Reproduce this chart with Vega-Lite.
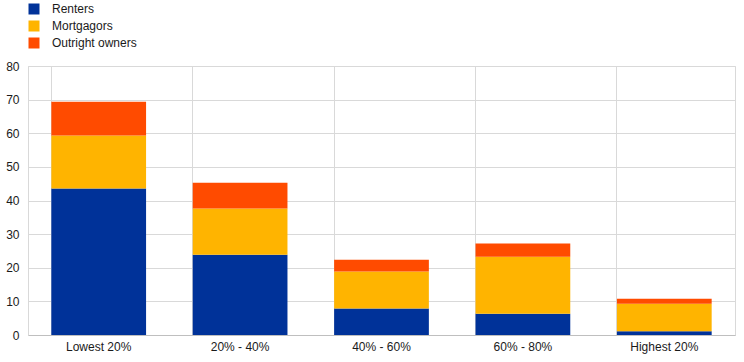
{
  "$schema": "https://vega.github.io/schema/vega-lite/v6.json",
  "width": 707,
  "height": 269,
  "autosize": {"type": "none"},
  "padding": {"left": 28, "top": 66, "right": 9, "bottom": 27},
  "background": "white",
  "config": {
    "font": "Liberation Sans",
    "view": {"stroke": "#d9d9d9", "strokeWidth": 1},
    "axis": {"labelFont": "Liberation Sans", "labelFontSize": 12, "labelColor": "#1a1a1a", "gridColor": "#d9d9d9", "domainColor": "#bfbfbf", "title": null}
  },
  "data": {
    "values": [
      {"group": "Lowest 20%", "type": "Renters", "k": 1, "value": 43.6},
      {"group": "Lowest 20%", "type": "Mortgagors", "k": 2, "value": 15.7},
      {"group": "Lowest 20%", "type": "Outright owners", "k": 3, "value": 10.1},
      {"group": "20% - 40%", "type": "Renters", "k": 1, "value": 23.9},
      {"group": "20% - 40%", "type": "Mortgagors", "k": 2, "value": 13.7},
      {"group": "20% - 40%", "type": "Outright owners", "k": 3, "value": 7.7},
      {"group": "40% - 60%", "type": "Renters", "k": 1, "value": 7.9},
      {"group": "40% - 60%", "type": "Mortgagors", "k": 2, "value": 11.0},
      {"group": "40% - 60%", "type": "Outright owners", "k": 3, "value": 3.5},
      {"group": "60% - 80%", "type": "Renters", "k": 1, "value": 6.3},
      {"group": "60% - 80%", "type": "Mortgagors", "k": 2, "value": 17.0},
      {"group": "60% - 80%", "type": "Outright owners", "k": 3, "value": 3.9},
      {"group": "Highest 20%", "type": "Renters", "k": 1, "value": 1.1},
      {"group": "Highest 20%", "type": "Mortgagors", "k": 2, "value": 8.2},
      {"group": "Highest 20%", "type": "Outright owners", "k": 3, "value": 1.5}
    ]
  },
  "mark": {"type": "bar"},
  "encoding": {
    "x": {
      "field": "group", "type": "nominal",
      "sort": ["Lowest 20%", "20% - 40%", "40% - 60%", "60% - 80%", "Highest 20%"],
      "scale": {"paddingInner": 0.33, "paddingOuter": 0.165},
      "axis": {"labelAngle": 0, "grid": true, "bandPosition": 0, "ticks": false, "labelPadding": 6, "domain": true}
    },
    "y": {
      "field": "value", "type": "quantitative", "aggregate": "sum",
      "scale": {"domain": [0, 80]},
      "axis": {"values": [0, 10, 20, 30, 40, 50, 60, 70, 80], "ticks": false, "labelPadding": 9, "domain": true, "domainColor": "#d9d9d9"}
    },
    "color": {
      "field": "type", "type": "nominal",
      "scale": {"domain": ["Renters", "Mortgagors", "Outright owners"], "range": ["#003299", "#FFB400", "#FF4B00"]},
      "legend": {"orient": "none", "legendX": 0, "legendY": -63, "title": null, "symbolType": "square", "symbolSize": 121, "symbolStrokeWidth": 0, "symbolOffset": 0, "labelFontSize": 12, "labelColor": "#1a1a1a", "rowPadding": 5, "labelOffset": 12}
    },
    "order": {"field": "k", "type": "quantitative", "sort": "ascending"}
  }
}
